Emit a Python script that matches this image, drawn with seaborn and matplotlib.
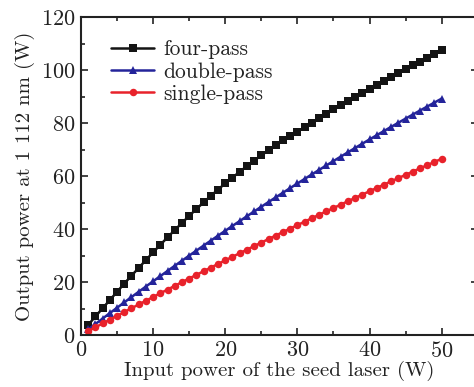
import matplotlib
matplotlib.use("Agg")
import matplotlib.pyplot as plt
import seaborn as sns
import pandas as pd
from matplotlib.ticker import MultipleLocator

seed_power = list(range(1, 51))

four_pass = [3.8, 7.0, 10.1, 13.2, 16.3, 19.4, 22.4, 25.3, 28.3, 31.2,
             34.05, 36.85, 39.6, 42.3, 44.95, 47.55, 50.05, 52.5, 54.9, 57.2,
             59.4, 61.6, 63.7, 65.8, 67.8, 69.7, 71.6, 73.4, 75.1, 76.7,
             78.4, 80.1, 81.8, 83.5, 85.1, 86.7, 88.3, 89.9, 91.4, 93.0,
             94.5, 96.0, 97.4, 98.9, 100.3, 101.7, 103.2, 104.6, 106.0, 107.4]

double_pass = [2.08, 4.15, 6.21, 8.26, 10.29, 12.31, 14.32, 16.31, 18.30, 20.27,
               22.23, 24.18, 26.12, 28.04, 29.95, 31.85, 33.74, 35.61, 37.48, 39.33,
               41.17, 42.99, 44.81, 46.61, 48.40, 50.18, 51.94, 53.70, 55.44, 57.17,
               58.89, 60.59, 62.28, 63.97, 65.63, 67.29, 68.93, 70.57, 72.19, 73.79,
               75.39, 76.97, 78.54, 80.10, 81.65, 83.18, 84.70, 86.21, 87.71, 89.2]

single_pass = [1.46, 2.91, 4.36, 5.80, 7.24, 8.67, 10.09, 11.51, 12.93, 14.34,
               15.75, 17.15, 18.54, 19.93, 21.32, 22.69, 24.07, 25.44, 26.80, 28.16,
               29.51, 30.86, 32.20, 33.54, 34.88, 36.20, 37.53, 38.84, 40.15, 41.46,
               42.76, 44.06, 45.35, 46.63, 47.92, 49.19, 50.46, 51.72, 52.98, 54.24,
               55.49, 56.73, 57.97, 59.20, 60.44, 61.66, 62.88, 64.09, 65.30, 66.50]

series_names = ["four-pass", "double-pass", "single-pass"]
series_colors = ["#141414", "#24249a", "#e8222b"]
series_markers = ["s", "^", "o"]

x_ticks = [0, 10, 20, 30, 40, 50]
y_ticks = [0, 20, 40, 60, 80, 100, 120]

sns.set_style("ticks")
plt.rcParams["font.family"] = ["cmr10", "DejaVu Serif"]
plt.rcParams["axes.formatter.use_mathtext"] = True

df = pd.DataFrame({
    "x": seed_power * 3,
    "y": four_pass + double_pass + single_pass,
    "series": sum([[n] * len(seed_power) for n in series_names], []),
})

fig = plt.figure(figsize=(4.74, 3.87), dpi=100)
ax = fig.add_axes([81 / 474, 52 / 387, 396.7 / 474, 318 / 387])

for name, col, mk in zip(series_names, series_colors, series_markers):
    sub = df[df["series"] == name]
    ms = {"s": 5.6, "^": 6.0, "o": 5.4}[mk]
    sns.lineplot(data=sub, x="x", y="y", ax=ax, color=col, marker=mk,
                 markersize=ms, markeredgewidth=0, linewidth=1.8, label=name)

ax.set_xlim(0, 55)
ax.set_ylim(0, 120)
ax.set_xticks(x_ticks)
ax.set_yticks(y_ticks)
ax.xaxis.set_minor_locator(MultipleLocator(5))
ax.yaxis.set_minor_locator(MultipleLocator(10))
ax.tick_params(which="both", direction="in", top=True, right=True,
               width=1.2, colors="#222222", labelcolor="#222222", labelsize=16)
ax.tick_params(which="major", length=5, pad=4)
ax.tick_params(which="minor", length=3)
for s in ax.spines.values():
    s.set_linewidth(1.5)
    s.set_color("#222222")

ax.set_xlabel("Input power of the seed laser (W)", fontsize=15, labelpad=0, color="#222222")
ax.set_ylabel("Output power at 1 112 nm (W)", fontsize=15, labelpad=4, color="#222222")

leg = ax.legend(loc="upper left", bbox_to_anchor=(0.055, 0.955), frameon=False,
                fontsize=15.5, handlelength=2.0, handletextpad=0.4,
                labelspacing=0.12, borderaxespad=0.0)
for t in leg.get_texts():
    t.set_color("#222222")

fig.savefig("out.png", dpi=100)
